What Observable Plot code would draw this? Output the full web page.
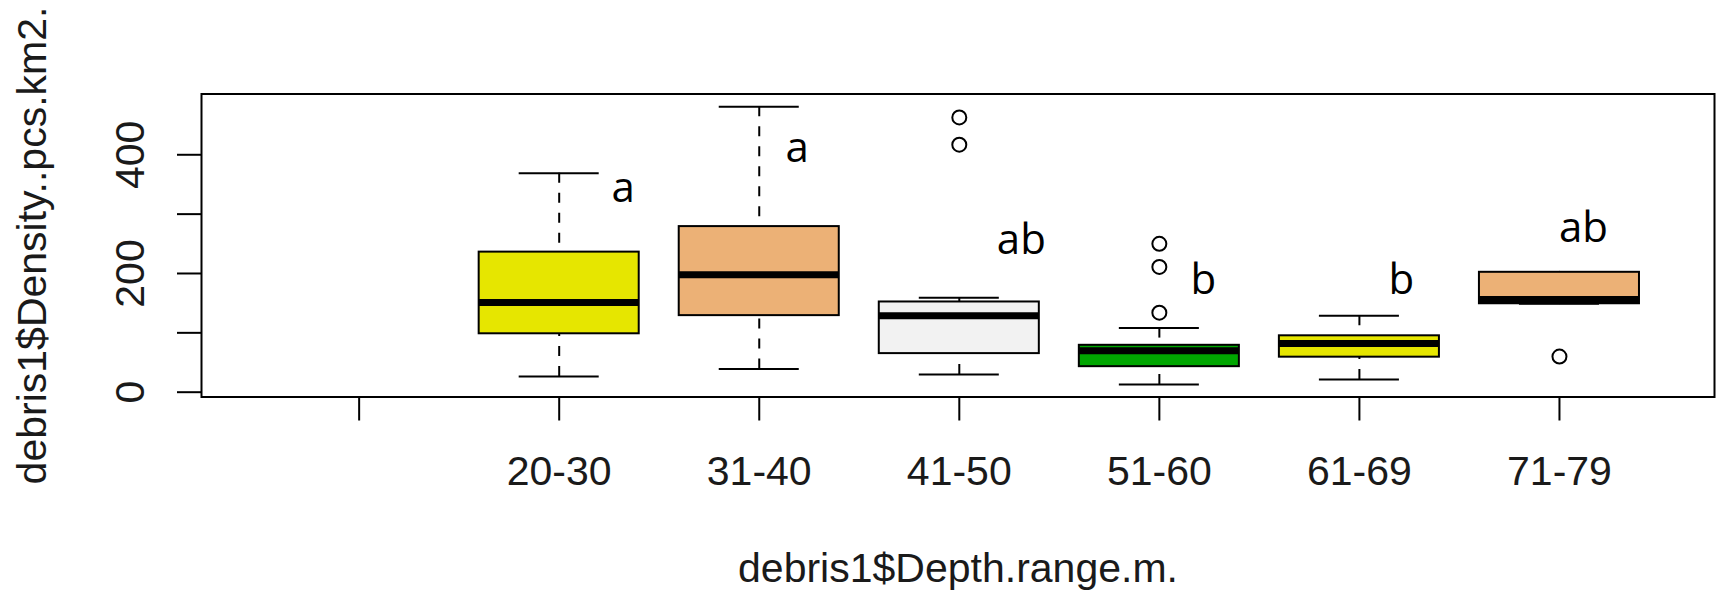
<!DOCTYPE html>
<html>
<head>
<meta charset="utf-8">
<script src="https://cdn.jsdelivr.net/npm/d3@7"></script>
<script src="https://cdn.jsdelivr.net/npm/@observablehq/plot@0.6"></script>
<style>
  html, body { margin: 0; padding: 0; background: #ffffff; }
  #chart svg { display: block; }
</style>
</head>
<body>
<div id="chart"></div>
<script>
// ---- data ----
const categories    = ["", "20-30", "31-40", "41-50", "51-60", "61-69", "71-79"];
const lowerWhisker  = [null, 26.5, 39,  30,  13,  21.4, 149];
const q1            = [null, 98.4, 129, 65,  43,  59,   149];
const medians       = [null, 151,  198, 129, 70,  82,   156];
const q3            = [null, 236,  279, 152, 79,  95,   202];
const upperWhisker  = [null, 369,  481, 159, 108, 129,  202];
const boxColors     = ["#00A600", "#E6E600", "#ECB176", "#F2F2F2", "#00A600", "#E6E600", "#ECB176"];

const outlierGroup  = ["41-50", "41-50", "51-60", "51-60", "51-60", "71-79"];
const outlierValue  = [463, 417, 250, 211, 134, 60];

const letterText    = ["a", "a", "ab", "b", "b", "ab"];
const letterX       = [2.32, 3.19, 4.31, 5.22, 6.21, 7.12];
const letterY       = [320, 387.5, 233, 166, 166, 253];

const yTicks        = [0, 100, 200, 300, 400];
const yTickLabels   = [0, 200, 400];
const yTitle        = "debris1$Density..pcs.km2.";
const xTitle        = "debris1$Depth.range.m.";

// ---- tables ----
const boxes = categories.map((c, k) => ({
  i: k + 1, cat: c, lo: lowerWhisker[k], q1: q1[k], med: medians[k],
  q3: q3[k], hi: upperWhisker[k], color: boxColors[k]
})).filter(d => d.med != null);

const outliers = outlierGroup.map((g, k) => ({ i: categories.indexOf(g) + 1, v: outlierValue[k] }));
const letters = letterText.map((t, k) => ({ t, x: letterX[k], y: letterY[k] }));

const HALF = 0.4;   // boxwex 0.8
const CAP = 0.2;    // staple half-width

const chart = Plot.plot({
  width: 1717,
  height: 592,
  marginTop: 93.5,
  marginBottom: 195.5,
  marginLeft: 201,
  marginRight: 3,
  style: { fontFamily: "'Liberation Sans', Arial, sans-serif", background: "#ffffff", color: "#000" },
  x: { type: "linear", domain: [0.212, 7.775], axis: null },
  y: { domain: [-8.1, 502.4], axis: null },
  marks: [
    // whiskers (dashed)
    Plot.ruleX(boxes, { x: "i", y1: "hi", y2: "q3", stroke: "#000", strokeWidth: 2, strokeDasharray: "10,10" }),
    Plot.ruleX(boxes, { x: "i", y1: "lo", y2: "q1", stroke: "#000", strokeWidth: 2, strokeDasharray: "10,10" }),
    // staples
    Plot.ruleY(boxes, { x1: d => d.i - CAP, x2: d => d.i + CAP, y: "hi", stroke: "#000", strokeWidth: 2 }),
    Plot.ruleY(boxes, { x1: d => d.i - CAP, x2: d => d.i + CAP, y: "lo", stroke: "#000", strokeWidth: 2 }),
    // boxes
    Plot.rect(boxes, { x1: d => d.i - HALF, x2: d => d.i + HALF, y1: "q1", y2: "q3", fill: "color", stroke: "#000", strokeWidth: 2 }),
    // medians
    Plot.ruleY(boxes, { x1: d => d.i - HALF, x2: d => d.i + HALF, y: "med", stroke: "#000", strokeWidth: 7 }),
    // outliers
    Plot.dot(outliers, { x: "i", y: "v", r: 7, stroke: "#000", strokeWidth: 2, fill: "none" }),
    // significance letters
    Plot.text(letters, { x: "x", y: "y", text: "t", fontFamily: "'Open Sans', sans-serif", fontSize: 42, fill: "#000", textAnchor: "middle", lineAnchor: "bottom" }),
    // frame
    Plot.frame({ stroke: "#000", strokeWidth: 2 }),
    // axes
    Plot.axisY({
      ticks: yTicks, tickSize: 24, tickPadding: 34, tickRotate: -90,
      textAnchor: "middle", lineAnchor: "bottom",
      tickFormat: d => yTickLabels.includes(d) ? String(d) : "",
      fontSize: 41, stroke: "#000", strokeWidth: 2, fill: "#1a1a1a", label: null
    }),
    Plot.axisX({
      ticks: d3.range(1, categories.length + 1), tickSize: 24, tickPadding: 35,
      tickFormat: i => categories[i - 1],
      fontSize: 41, stroke: "#000", strokeWidth: 2, fill: "#1a1a1a", label: null
    }),
    // axis titles
    Plot.text([yTitle], { frameAnchor: "left", dx: -156, rotate: -90, textAnchor: "middle", lineAnchor: "bottom", fontSize: 41, fill: "#1a1a1a" }),
    Plot.text([xTitle], { frameAnchor: "bottom", dy: 185, textAnchor: "middle", lineAnchor: "bottom", fontSize: 41, fill: "#1a1a1a" })
  ]
});

document.getElementById("chart").appendChild(chart);
</script>
</body>
</html>
